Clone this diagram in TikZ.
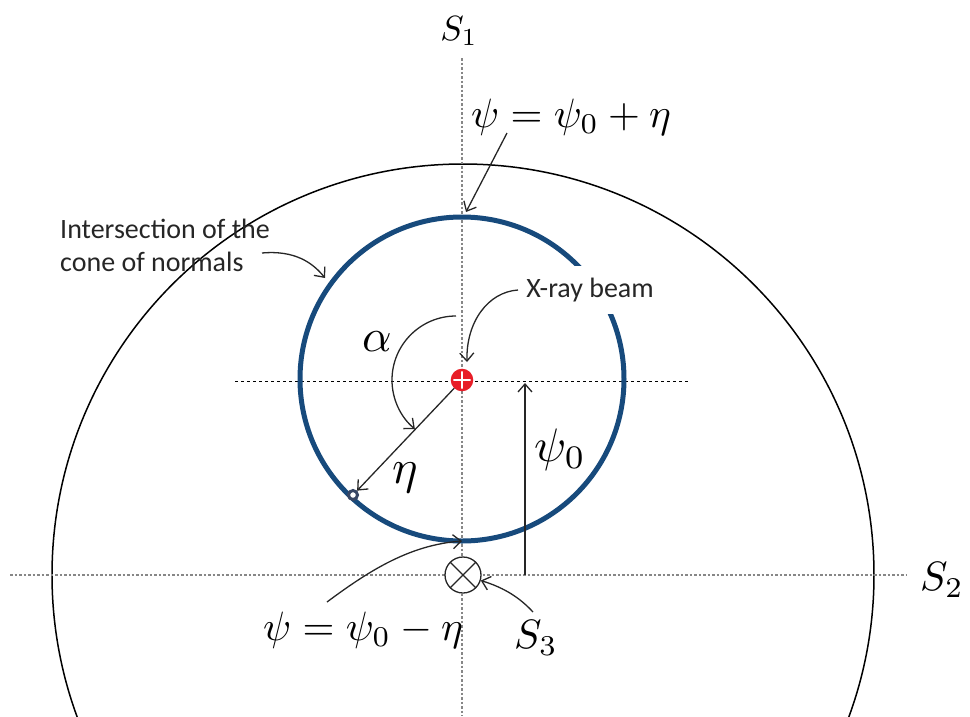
\documentclass[tikz,border=0pt]{standalone}
\usepackage{graphicx}
\usepackage{fontspec}
\newfontfamily\carl{Carlito}
\usetikzlibrary{arrows.meta}
\definecolor{ringblue}{RGB}{23,74,124}
\definecolor{dotgray}{RGB}{135,135,135}
\definecolor{ringdark}{RGB}{55,70,100}
\definecolor{beamred}{RGB}{232,30,40}
\newcommand{\mbig}[2]{\scalebox{#1}{$#2$}}
\begin{document}
\begin{tikzpicture}[x=1pt,y=-1pt,
  guide/.style={draw=dotgray,line width=1.3pt,dash pattern=on 2.5pt off 2pt},
  guideb/.style={draw=black,line width=0.9pt,dash pattern=on 3pt off 3pt},
  conn/.style={draw=black!85,line width=1.3pt,-{Straight Barb[length=8pt,width=14pt,line width=1.3pt]}},
  mlab/.style={inner sep=0pt},
  tlab/.style={inner sep=0pt,text=black!85,font=\carl\fontsize{28}{33}\selectfont}
]
\useasboundingbox (0,0) rectangle (970,716);
% outer circle
\begin{scope}
\clip (0,0) rectangle (970,716);
\draw[line width=1.5pt] (463,575) circle[radius=411];
\end{scope}
% guide lines
\coordinate (vt) at (462,58);
\coordinate (vb) at (462,716);
\coordinate (hl) at (10,575);
\coordinate (hr) at (907,575);
\coordinate (ml) at (235,381);
\coordinate (mr) at (690,381);
\draw[guide] (vt) -- (vb);
\draw[guide] (hl) -- (hr);
\draw[guideb] (ml) -- (mr);
% cone of normals ring
\draw[draw=ringblue,line width=5pt] (462,379) circle[radius=162];
% labels
\node[tlab,fill=white,inner xsep=3pt,minimum height=48pt] (xray) at (590,290) {X-ray beam};
\node[tlab,anchor=west,align=left] (cone) at (60,245) {Intersection of the\\cone of normals};
\node[mlab] (s1) at (459,31) {\mbig{3.5}{S_1}};
\node[mlab] (s2) at (942,580) {\mbig{4.1}{S_2}};
\node[mlab] (s3) at (536,638) {\mbig{4.1}{S_3}};
\node[mlab] (eqtop) at (571,117) {\mbig{4.1}{\psi=\psi_0+\eta}};
\node[mlab] (eqbot) at (363,630) {\mbig{4.1}{\psi=\psi_0-\eta}};
\node[mlab] (alpha) at (377,342) {\mbig{4.6}{\alpha}};
\node[mlab] (eta) at (405,478) {\mbig{4.8}{\eta}};
\node[mlab] (psi0) at (560,450) {\mbig{4.7}{\psi_0}};
% symbols
\node[circle,draw=beamred,fill=beamred,line width=2.5pt,minimum size=20pt,inner sep=0pt,
  path picture={\draw[white,line width=2.6pt] (path picture bounding box.north) -- (path picture bounding box.south)
    (path picture bounding box.west) -- (path picture bounding box.east);}] (beam) at (462,380) {};
\node[circle,draw=ringdark,fill=white,line width=3pt,minimum size=9pt,inner sep=0pt] (pt) at (353,495) {};
\node[circle,draw=black!85,fill=white,line width=1.3pt,minimum size=36pt,inner sep=0pt,
  path picture={\draw[black!85,line width=1.3pt] (path picture bounding box.north west) -- (path picture bounding box.south east)
    (path picture bounding box.north east) -- (path picture bounding box.south west);}] (s3c) at (463,575) {};
% connectors
\coordinate (eqtopA) at (507,133);
\coordinate (ringtop) at (466,212);
\draw[conn] (eqtopA) -- (ringtop);
\coordinate (coneA) at (262,253);
\coordinate (ringleft) at (325,278);
\draw[conn] (coneA) .. controls (295,250) and (313,263) .. (ringleft);
\coordinate (xrayA) at (518,290);
\coordinate (beamtop) at (467,362);
\draw[conn] (xrayA) .. controls (488,292) and (466,322) .. (beamtop);
\coordinate (aS) at (456,316);
\draw[conn] (aS) arc[start angle=-90,end angle=-230,radius=64];
\draw[conn] (beam) -- (pt);
\coordinate (p0b) at (525,575);
\coordinate (p0t) at (525,383);
\draw[conn] (p0b) -- (p0t);
\coordinate (eqbotA) at (327,602);
\coordinate (ringbot) at (462,541);
\draw[conn] (eqbotA) .. controls (370,570) and (410,545) .. (ringbot);
\coordinate (s3A) at (533,612);
\draw[conn] (s3A) .. controls (520,598) and (505,588) .. (s3c);
\end{tikzpicture}
\end{document}
